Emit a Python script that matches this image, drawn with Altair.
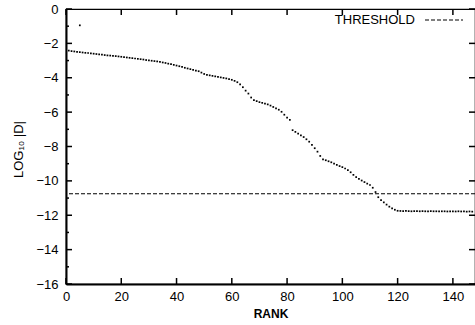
import altair as alt
import pandas as pd

# ---- data ----
ranks = list(range(1, 148))
log_d = [
    -2.42, -2.45, -2.47, -2.49, -2.51, -2.53, -2.55, -2.56, -2.58, -2.60,
    -2.62, -2.64, -2.66, -2.68, -2.70, -2.71, -2.73, -2.74, -2.76, -2.78,
    -2.80, -2.82, -2.84, -2.86, -2.88, -2.90, -2.92, -2.94, -2.97, -2.99,
    -3.01, -3.03, -3.05, -3.08, -3.11, -3.14, -3.18, -3.21, -3.25, -3.29,
    -3.33, -3.37, -3.42, -3.46, -3.50, -3.54, -3.58, -3.62, -3.70, -3.78,
    -3.83, -3.86, -3.89, -3.92, -3.95, -3.98, -4.01, -4.04, -4.08, -4.12,
    -4.18, -4.26, -4.38, -4.55, -4.75, -4.92, -5.15, -5.30, -5.36, -5.42,
    -5.46, -5.50, -5.55, -5.62, -5.70, -5.78, -5.86, -5.98, -6.15, -6.32,
    -6.45, -7.05, -7.15, -7.25, -7.35, -7.45, -7.58, -7.72, -7.90, -8.10,
    -8.30, -8.55, -8.75, -8.80, -8.86, -8.92, -9.00, -9.07, -9.14, -9.20,
    -9.28, -9.38, -9.50, -9.65, -9.78, -9.88, -9.98, -10.07, -10.16, -10.24,
    -10.40, -10.65, -10.95, -11.12, -11.25, -11.38, -11.50, -11.60, -11.68, -11.74,
    -11.75, -11.76, -11.75, -11.76, -11.77, -11.76, -11.76, -11.77, -11.76, -11.77,
    -11.77, -11.76, -11.77, -11.77, -11.78, -11.77, -11.77, -11.78, -11.77, -11.78,
    -11.78, -11.77, -11.78, -11.78, -11.79, -11.78, -11.79,
]
outlier_rank = [5]
outlier_val = [-0.95]
threshold = [-10.75]
x_ticks = [0, 20, 40, 60, 80, 100, 120, 140]
y_major = [0, -2, -4, -6, -8, -10, -12, -14, -16]
y_minor = [-1, -3, -5, -7, -9, -11, -13, -15]
legend_label = "THRESHOLD"

W, H = 409, 275
FONT = "Liberation Sans"

pts = pd.DataFrame({"rank": ranks + outlier_rank, "val": log_d + outlier_val})

xs = alt.Scale(domain=[0, 148], nice=False, zero=False)
ys = alt.Scale(domain=[-16, 0], nice=False, zero=False)

x_axis = alt.Axis(values=x_ticks, ticks=False, domainWidth=2, domainColor="black",
                  labelFont=FONT, labelFontSize=13, labelColor="black", labelPadding=6,
                  labelFlush=False, labelOverlap=False,
                  titleFont=FONT, titleFontSize=12, titleFontWeight="bold",
                  titleColor="black", titlePadding=5, grid=False)
y_axis = alt.Axis(values=y_major, ticks=False, domainWidth=2, domainColor="black",
                  labelFont=FONT, labelFontSize=13, labelColor="black", labelPadding=8,
                  labelFlush=False, labelOverlap=False,
                  titleFont=FONT, titleFontSize=13, titleFontWeight="normal",
                  titleColor="black", titlePadding=10, titleY=140, grid=False)
X_TITLE = "RANK"
Y_TITLE = "LOG₁₀ |D|"


def xenc(field):
    return alt.X(field, scale=xs, axis=x_axis, title=X_TITLE)


def yenc(field):
    return alt.Y(field, scale=ys, axis=y_axis, title=Y_TITLE)


points = alt.Chart(pts).mark_square(size=3, color="black", opacity=1).encode(
    x=xenc("rank:Q"), y=yenc("val:Q"))

thr = alt.Chart(pd.DataFrame({"t": threshold})).mark_rule(
    color="black", strokeDash=[4, 2], strokeWidth=1.2
).encode(y=yenc("t:Q"))

xt = pd.DataFrame({"t": x_ticks})
xt_bottom = alt.Chart(xt).mark_rule(color="black", strokeWidth=1.5).encode(
    x=xenc("t:Q"), y=alt.value(H), y2=alt.value(H - 6))
xt_top = alt.Chart(xt).mark_rule(color="black", strokeWidth=1.5).encode(
    x=xenc("t:Q"), y=alt.value(0), y2=alt.value(6))

ym = pd.DataFrame({"t": y_major})
yn = pd.DataFrame({"t": y_minor})
ym_left = alt.Chart(ym).mark_rule(color="black", strokeWidth=1.5).encode(
    y=yenc("t:Q"), x=alt.value(0), x2=alt.value(6))
yn_left = alt.Chart(yn).mark_rule(color="black", strokeWidth=1.5).encode(
    y=yenc("t:Q"), x=alt.value(0), x2=alt.value(3))
ym_right = alt.Chart(ym).mark_rule(color="black", strokeWidth=1.5).encode(
    y=yenc("t:Q"), x=alt.value(W), x2=alt.value(W - 6))

leg_text = alt.Chart(pd.DataFrame({"l": [legend_label]})).mark_text(
    font=FONT, fontSize=13, align="right", baseline="middle", color="black"
).encode(text="l:N", x=alt.value(349), y=alt.value(11))
leg_line = alt.Chart(pd.DataFrame({"l": [legend_label]})).mark_rule(
    color="black", strokeDash=[4, 2], strokeWidth=1.2
).encode(x=alt.value(359), x2=alt.value(397), y=alt.value(11))

chart = alt.layer(
    points, thr, xt_bottom, xt_top, ym_left, yn_left, ym_right, leg_text, leg_line
).properties(
    width=W, height=H,
    autosize=alt.AutoSizeParams(type="none"),
    padding={"left": 66, "top": 9, "right": 0, "bottom": 41},
    background="white",
).configure_view(stroke="black", strokeWidth=1.2)

chart.save("out.html", embed_options={"renderer": "svg", "actions": False})
